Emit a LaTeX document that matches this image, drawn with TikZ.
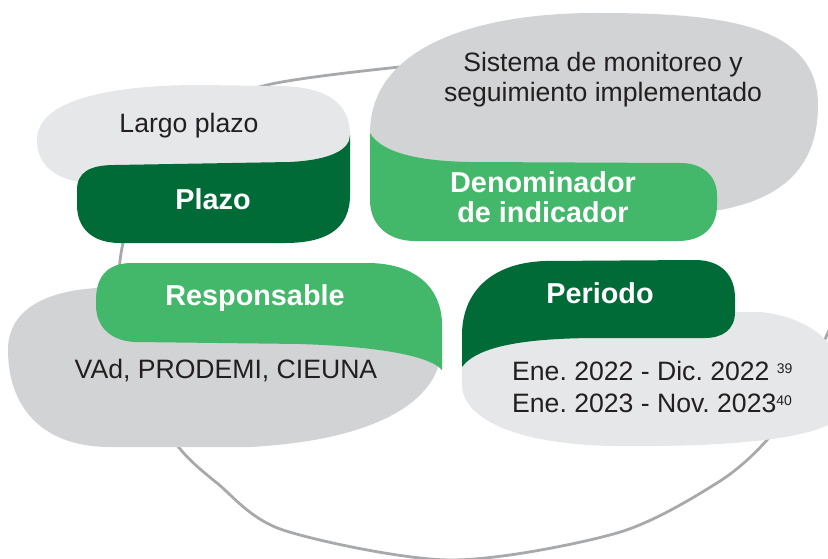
\documentclass[tikz,border=0pt]{standalone}
\usepackage{fontspec}
\setmainfont{Liberation Sans}
\definecolor{greendark}  {HTML}{006B36}
\definecolor{greenlight} {HTML}{43B76A}
\definecolor{greylight}  {HTML}{E6E7E8}
\definecolor{greymid}    {HTML}{D1D3D4}
\definecolor{ringgrey}   {HTML}{A7A9AC}
\definecolor{textdark}   {HTML}{231F20}
\newcommand{\notamark}[1]{\raisebox{7pt}{\fontsize{14}{14}\selectfont #1}}
\tikzset{ % Setup for the cards
ring/.style={draw=ringgrey, line width=2.8pt},
lbl/.style={font=\fontsize{28.8}{30}\selectfont\bfseries, text=white, inner sep=0pt},
val/.style={font=\fontsize{26.6}{30}\selectfont\frenchspacing, text=textdark, inner sep=0pt},
}

\begin{document}
\begin{tikzpicture}[x=1pt, y=-1pt]
            \useasboundingbox (0,0) rectangle (828,559);
            % ring behind the cards
            \draw[ring] plot[smooth, tension=0.5] coordinates {(850,265) (838,308) (826,337) (805,385) (767,440) (717,483) (617,533) (450,560) (283,530) (217,483) (177,445) (140,380) (120,300) (123,243) (150,160) (195,115) (267,85) (390,68) (470,63) (580,70) (680,95)};
            % Plazo
            \fill[greylight] (37,140) .. controls (37,97) and (120,85) .. (200,85) -- (280,86) .. controls (330,87) and (350,105) .. (350,135) -- (350,200) -- (80,200) -- (80,182) .. controls (55,178) and (37,165) .. (37,140) -- cycle;
            \fill[greendark] (77,190) .. controls (77,172) and (90,165) .. (115,165) -- (290,162) .. controls (330,160) and (350,150) .. (350,135) -- (350,195) .. controls (350,230) and (325,243) .. (285,243) -- (120,243) .. controls (92,243) and (77,228) .. (77,205) -- cycle;
            % Denominador
            \fill[greymid] (370,133) .. controls (370,45) and (480,13) .. (595,13) .. controls (710,13) and (818,20) .. (818,105) .. controls (818,165) and (785,198) .. (720,210) -- (450,210) -- (370,170) -- cycle;
            \fill[greenlight] (370,133) .. controls (380,150) and (410,161) .. (470,162) -- (680,163) .. controls (705,163) and (717,178) .. (717,195) -- (717,205) .. controls (717,228) and (702,241) .. (678,241) -- (415,241) .. controls (388,241) and (370,225) .. (370,200) -- cycle;
            % Responsable
            \fill[greymid] (8,350) .. controls (8,310) and (45,291) .. (97,288) -- (400,300) -- (440,340) -- (440,360) .. controls (432,400) and (380,440) .. (250,447) -- (110,447) .. controls (40,447) and (8,405) .. (8,350) -- cycle;
            \fill[greenlight] (96,300) .. controls (96,277) and (107,263) .. (132,263) -- (367,263) .. controls (418,263) and (442,290) .. (442,325) -- (442,370) .. controls (432,358) and (390,347) .. (300,344) -- (135,342) .. controls (112,341) and (96,328) .. (96,305) -- cycle;
            % Periodo
            \fill[greylight] (462,340) -- (462,385) .. controls (462,412) and (500,443) .. (610,446) .. controls (700,447) and (790,443) .. (828,425) .. controls (860,405) and (855,322) .. (760,312) -- (560,312) -- cycle;
            \fill[greendark] (462,367) -- (462,335) .. controls (462,295) and (488,263) .. (545,261) -- (695,260) .. controls (722,260) and (735,276) .. (735,298) -- (735,312) .. controls (735,330) and (722,338) .. (705,338) -- (600,338) .. controls (530,338) and (478,345) .. (462,367) -- cycle;
            % texts
            \node[val, anchor=base] (largo) at (189,133) {Largo plazo};
            \node[lbl, anchor=base] (plazo) at (213,210) {Plazo};
            \node[val, align=center] (sistema) at (603,80) {Sistema de monitoreo y\\seguimiento implementado};
            \node[lbl, align=center] (denom) at (543,197) {Denominador\\de indicador};
            \node[lbl, anchor=base] (resp) at (255,305) {Responsable};
            \node[val, anchor=base] (vad) at (226,378) {VAd, PRODEMI, CIEUNA};
            \node[lbl, anchor=base] (periodo) at (600,303) {Periodo};
            \node[val, align=left, anchor=west, font=\fontsize{26.6}{32}\selectfont\frenchspacing] (fechas) at (512,386.5) {Ene. 2022 - Dic. 2022 \notamark{39}\\Ene. 2023 - Nov. 2023\notamark{40}};
        \end{tikzpicture}
\end{document}
